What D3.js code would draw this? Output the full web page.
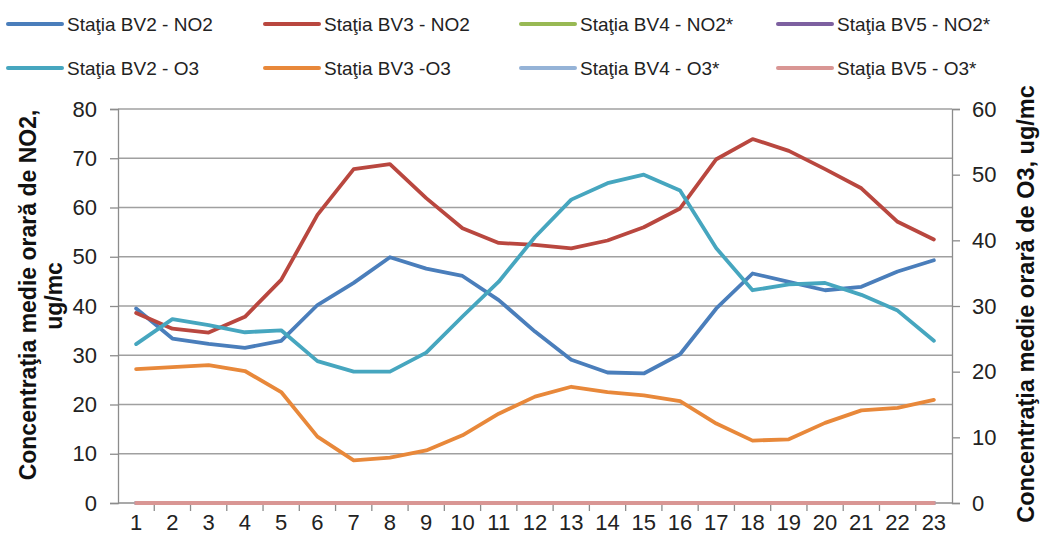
<!DOCTYPE html>
<html><head><meta charset="utf-8">
<script src="https://cdn.jsdelivr.net/npm/d3@7"></script>
<style>body{margin:0;background:#fff}svg{display:block}text{font-family:"Liberation Sans",Arial,sans-serif}</style>
</head><body>
<svg id="c" width="1041" height="540"></svg>
<script>
const hours = [1,2,3,4,5,6,7,8,9,10,11,12,13,14,15,16,17,18,19,20,21,22,23];
const bv2NO2 = [39.5,33.4,32.3,31.5,32.9,40.2,44.7,49.9,47.6,46.1,41.2,34.8,29.1,26.5,26.3,30.2,39.5,46.6,44.9,43.2,43.9,47.0,49.3];
const bv3NO2 = [38.6,35.4,34.6,37.8,45.3,58.5,67.8,68.8,61.9,55.8,52.8,52.4,51.7,53.3,56.0,59.8,69.8,73.9,71.5,67.8,63.9,57.1,53.5];
const bv4NO2 = hours.map(() => 0);
const bv5NO2 = hours.map(() => 0);
const bv2O3 = [24.2,28.0,27.1,26.0,26.3,21.6,20.0,20.0,22.9,28.4,33.7,40.5,46.2,48.7,50.0,47.6,38.8,32.4,33.3,33.5,31.7,29.3,24.7];
const bv3O3 = [20.4,20.7,21.0,20.1,16.9,10.1,6.5,6.9,8.0,10.3,13.6,16.2,17.7,16.9,16.4,15.5,12.1,9.5,9.7,12.2,14.1,14.5,15.7];
const bv4O3 = hours.map(() => 0);
const bv5O3 = hours.map(() => 0);
const leftTicks = [0,10,20,30,40,50,60,70,80];
const rightTicks = [0,10,20,30,40,50,60];

const series = [
  {name:"Staţia BV2 - NO2", values:bv2NO2, axis:"L", color:"#4A7EBB"},
  {name:"Staţia BV3 - NO2", values:bv3NO2, axis:"L", color:"#B9473F"},
  {name:"Staţia BV4 - NO2*", values:bv4NO2, axis:"L", color:"#98B954"},
  {name:"Staţia BV5 - NO2*", values:bv5NO2, axis:"L", color:"#7D60A0"},
  {name:"Staţia BV2 - O3", values:bv2O3, axis:"R", color:"#46A6BF"},
  {name:"Staţia BV3 -O3", values:bv3O3, axis:"R", color:"#E8883A"},
  {name:"Staţia BV4 - O3*", values:bv4O3, axis:"R", color:"#95B3D7"},
  {name:"Staţia BV5 - O3*", values:bv5O3, axis:"R", color:"#D99694"}
];

const svg = d3.select("#c");
const L = 118, R = 952, T = 109, B = 503;
const x = d3.scaleBand().domain(hours).range([L, R]).padding(0);
const cx = d => x(d) + x.bandwidth()/2;
const yL = d3.scaleLinear().domain([0,80]).range([B, T]);
const yR = d3.scaleLinear().domain([0,60]).range([B, T]);
const gridCol = "#A0A0A0", axisCol = "#8C8C8C";

// gridlines
svg.append("g").selectAll("line").data(leftTicks.filter(d=>d>0)).join("line")
  .attr("x1", L).attr("x2", R).attr("y1", d=>yL(d)).attr("y2", d=>yL(d))
  .attr("stroke", gridCol).attr("stroke-width", 1.3);

// left axis
const gL = svg.append("g").attr("transform", `translate(${L},0)`)
  .call(d3.axisLeft(yL).tickValues(leftTicks).tickSize(8).tickPadding(13));
gL.select(".domain").attr("stroke", axisCol).attr("stroke-width",1.3);
gL.selectAll(".tick line").attr("stroke", axisCol).attr("stroke-width",1.3);
gL.selectAll("text").attr("font-size", 22).attr("fill", "#222").attr("font-family","Liberation Sans, Arial");

// right axis
const gR = svg.append("g").attr("transform", `translate(${R},0)`)
  .call(d3.axisRight(yR).tickValues(rightTicks).tickSize(8).tickPadding(12));
gR.select(".domain").attr("stroke", axisCol).attr("stroke-width",1.3);
gR.selectAll(".tick line").attr("stroke", axisCol).attr("stroke-width",1.3);
gR.selectAll("text").attr("font-size", 22).attr("fill", "#222").attr("font-family","Liberation Sans, Arial");

// x axis
svg.append("line").attr("x1", L).attr("x2", R).attr("y1", B).attr("y2", B)
  .attr("stroke", axisCol).attr("stroke-width", 1.3);
svg.append("g").selectAll("line").data(hours.slice(1)).join("line")
  .attr("x1", d=>x(d)).attr("x2", d=>x(d)).attr("y1", B).attr("y2", B+8)
  .attr("stroke", axisCol).attr("stroke-width", 1.3);
svg.append("g").selectAll("text").data(hours).join("text")
  .attr("x", d=>cx(d)).attr("y", 530).attr("text-anchor","middle")
  .attr("font-size", 22).attr("fill","#222").text(d=>d);

// lines
const lineL = d3.line().x((d,i)=>cx(hours[i])).y(d=>yL(d));
const lineR = d3.line().x((d,i)=>cx(hours[i])).y(d=>yR(d));
svg.append("g").selectAll("path").data(series).join("path")
  .attr("d", s => (s.axis==="L"?lineL:lineR)(s.values))
  .attr("fill","none").attr("stroke", s=>s.color).attr("stroke-width", 3.8)
  .attr("stroke-linejoin","round").attr("stroke-linecap","round");

// axis titles
svg.append("text").attr("transform", `translate(36,295) rotate(-90)`)
  .attr("text-anchor","middle").attr("font-size",23).attr("font-weight","bold").attr("fill","#111")
  .text("Concentraţia medie orară de NO2,");
svg.append("text").attr("transform", `translate(62,296) rotate(-90)`)
  .attr("text-anchor","middle").attr("font-size",23).attr("font-weight","bold").attr("fill","#111")
  .text("ug/mc");
svg.append("text").attr("transform", `translate(1034,304) rotate(-90)`)
  .attr("text-anchor","middle").attr("font-size",23.5).attr("font-weight","bold").attr("fill","#111")
  .text("Concentraţia medie orară de O3, ug/mc");

// legend
const legX = [8, 265, 521, 778];
const legY = [24, 68];
const leg = svg.append("g").selectAll("g").data(series).join("g")
  .attr("transform", (s,i) => `translate(${legX[i%4]},${legY[Math.floor(i/4)]})`);
leg.append("line").attr("x1",0).attr("x2",54).attr("stroke", s=>s.color)
  .attr("stroke-width",4).attr("stroke-linecap","round");
leg.append("text").attr("x",59).attr("y",7).attr("font-size",19).attr("fill","#222").text(s=>s.name);
</script>
</body></html>
